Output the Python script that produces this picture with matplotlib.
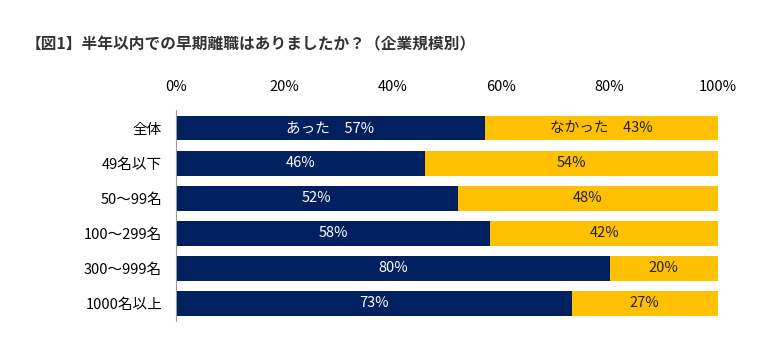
import matplotlib.pyplot as plt
import numpy as np

plt.rcParams['font.family'] = ['Noto Sans CJK JP', 'DejaVu Sans']

categories = ['全体', '49名以下', '50～99名', '100～299名', '300～999名', '1000名以上']
atta = [57, 46, 52, 58, 80, 73]
nakatta = [43, 54, 48, 42, 20, 27]
ticks = [0, 20, 40, 60, 80, 100]

navy = '#002060'
yellow = '#FFC000'

fig = plt.figure(figsize=(7.77, 3.55), dpi=100)
ax = fig.add_axes([0.2265, 0.0958, 0.6975, 0.593])

y = np.arange(len(categories))
ax.barh(y, atta, height=0.71, color=navy)
ax.barh(y, nakatta, left=atta, height=0.71, color=yellow)

for i in range(len(categories)):
    if i == 0:
        t1 = 'あった　%d%%' % atta[i]
        t2 = 'なかった　%d%%' % nakatta[i]
    else:
        t1 = '%d%%' % atta[i]
        t2 = '%d%%' % nakatta[i]
    ax.text(atta[i] / 2, y[i], t1, color='white', ha='center', va='center', fontsize=10.5)
    ax.text(atta[i] + nakatta[i] / 2, y[i], t2, color='#222222', ha='center', va='center', fontsize=10.5)

ax.set_xlim(0, 100)
ax.set_ylim(len(categories) - 0.5, -0.5)
ax.set_yticks(y)
ax.set_yticklabels(categories, fontsize=10.5)
ax.set_xticks(ticks)
ax.set_xticklabels(['%d%%' % t for t in ticks], fontsize=10.5)
ax.xaxis.tick_top()
ax.tick_params(axis='x', length=0, pad=12)
ax.tick_params(axis='y', length=0, pad=10)
for s in ['top', 'right', 'bottom']:
    ax.spines[s].set_visible(False)
ax.spines['left'].set_color('#999999')

fig.text(0.033, 0.876, '【図1】半年以内での早期離職はありましたか？（企業規模別）',
         fontsize=11.3, fontweight='bold', color='#333333', va='center')

fig.savefig('out.png', dpi=100)
